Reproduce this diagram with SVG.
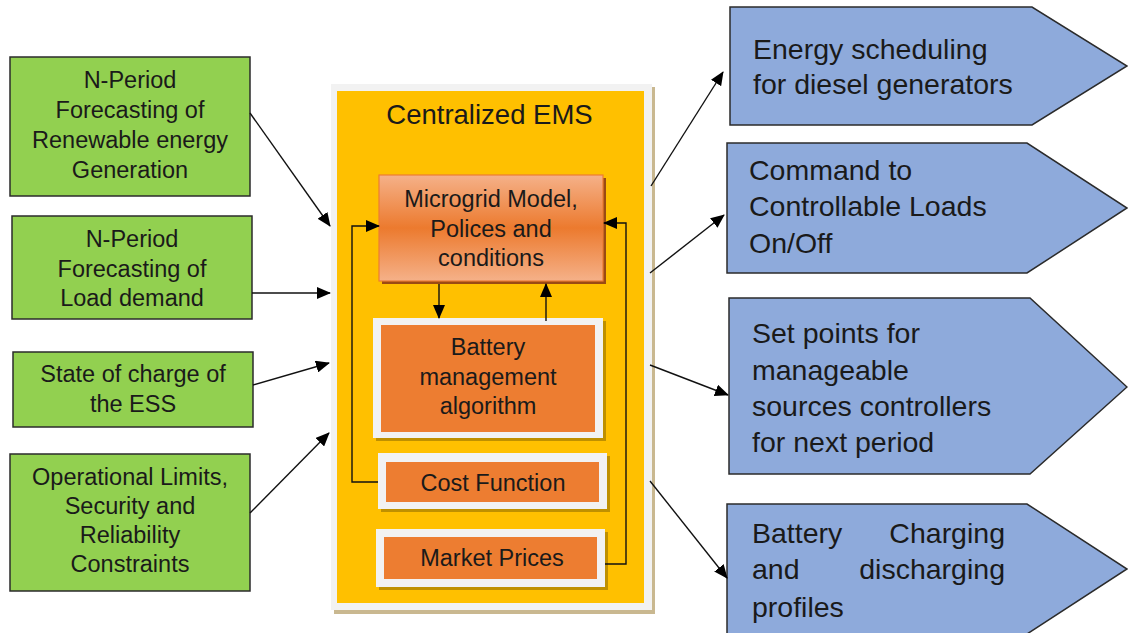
<svg xmlns="http://www.w3.org/2000/svg" width="1128" height="633" viewBox="0 0 1128 633">
<style>
text{font-family:"Liberation Sans",Arial,sans-serif;fill:#1a1a1a}
.g{font-size:23.5px;text-anchor:middle}
.o{font-size:23.5px;text-anchor:middle}
.b{font-size:28.5px}
.green{fill:#92d050;stroke:#2b2b2b;stroke-width:1.5}
.blue{fill:#8eaadb;stroke:#2b2b2b;stroke-width:1.5}
.frame{fill:#f2f2f2}
.org{fill:#ed7d31}
.sh{fill:#bf9000}
.ln{fill:none;stroke:#111;stroke-width:1.4}
</style>
<defs>
<marker id="ah" markerUnits="userSpaceOnUse" markerWidth="14" markerHeight="12" refX="13" refY="6" orient="auto" viewBox="0 0 14 12">
<path d="M0,0 L14,6 L0,12 z" fill="#000"/>
</marker>
<linearGradient id="mg" x1="0" y1="0" x2="0" y2="1">
<stop offset="0" stop-color="#f5b189"/>
<stop offset="0.5" stop-color="#ec7a2e"/>
<stop offset="1" stop-color="#f5b189"/>
</linearGradient>
</defs>
<rect width="1128" height="633" fill="#fff"/>

<g id="ems">
<rect x="334" y="87" width="321" height="527" fill="#c9b890"/>
<rect x="331" y="84" width="321" height="526" class="frame"/>
<rect x="337" y="91" width="307" height="512" fill="#ffc000"/>
<text x="489.5" y="124" style="font-size:27.5px;text-anchor:middle">Centralized EMS</text>
</g>

<g id="microgrid">
<rect x="382" y="178" width="224" height="106" fill="#9a4a14"/>
<rect x="379" y="175" width="224" height="106" fill="url(#mg)" stroke="#ed7d31" stroke-width="1.2"/>
<text class="o" x="491" y="207">Microgrid Model,</text>
<text class="o" x="491" y="237">Polices and</text>
<text class="o" x="491" y="266">conditions</text>
</g>

<g id="battery">
<rect x="376" y="321" width="230" height="120" class="sh"/>
<rect x="373" y="318" width="230" height="120" class="frame"/>
<rect x="381" y="325" width="214" height="107" class="org"/>
<text class="o" x="488" y="355">Battery</text>
<text class="o" x="488" y="385">management</text>
<text class="o" x="488" y="414">algorithm</text>
</g>

<g id="cost">
<rect x="381" y="456" width="229" height="56" class="sh"/>
<rect x="378" y="453" width="229" height="56" class="frame"/>
<rect x="386" y="462" width="213" height="40" class="org"/>
<text class="o" x="493" y="491">Cost Function</text>
</g>

<g id="market">
<rect x="379" y="532" width="229" height="58" class="sh"/>
<rect x="376" y="529" width="229" height="58" class="frame"/>
<rect x="384" y="537" width="213" height="42" class="org"/>
<text class="o" x="492" y="566">Market Prices</text>
</g>

<g id="in1">
<rect x="10" y="57" width="240" height="139" class="green"/>
<text class="g" x="130" y="88">N-Period</text>
<text class="g" x="130" y="118">Forecasting of</text>
<text class="g" x="130" y="148">Renewable energy</text>
<text class="g" x="130" y="178">Generation</text>
</g>
<g id="in2">
<rect x="12" y="216" width="240" height="103" class="green"/>
<text class="g" x="132" y="247">N-Period</text>
<text class="g" x="132" y="277">Forecasting of</text>
<text class="g" x="132" y="306">Load demand</text>
</g>
<g id="in3">
<rect x="13" y="352" width="240" height="75" class="green"/>
<text class="g" x="133" y="382">State of charge of</text>
<text class="g" x="133" y="412">the ESS</text>
</g>
<g id="in4">
<rect x="10" y="454" width="240" height="137" class="green"/>
<text class="g" x="130" y="485">Operational Limits,</text>
<text class="g" x="130" y="514">Security and</text>
<text class="g" x="130" y="543">Reliability</text>
<text class="g" x="130" y="572">Constraints</text>
</g>

<g id="out1">
<polygon points="730,7 1032,7 1127,66 1032,125 730,125" class="blue"/>
<text class="b" x="753" y="59">Energy scheduling</text>
<text class="b" x="753" y="94">for diesel generators</text>
</g>
<g id="out2">
<polygon points="727,143 1027,143 1127,208 1027,273 727,273" class="blue"/>
<text class="b" x="749" y="180">Command to</text>
<text class="b" x="749" y="216">Controllable Loads</text>
<text class="b" x="749" y="253">On/Off</text>
</g>
<g id="out3">
<polygon points="729,298 1030,298 1127,387 1030,474 729,474" class="blue"/>
<text class="b" x="752" y="343">Set points for</text>
<text class="b" x="752" y="380">manageable</text>
<text class="b" x="752" y="416">sources controllers</text>
<text class="b" x="752" y="452">for next period</text>
</g>
<g id="out4">
<polygon points="727,504 1027,504 1127,569 1027,634 727,634" class="blue"/>
<text class="b" x="752" y="543">Battery</text>
<text class="b" x="1005" y="543" style="text-anchor:end">Charging</text>
<text class="b" x="752" y="579">and</text>
<text class="b" x="1005" y="579" style="text-anchor:end">discharging</text>
<text class="b" x="752" y="617">profiles</text>
</g>

<g id="connectors" class="ln" marker-end="url(#ah)">
<line x1="250" y1="113" x2="330" y2="226" class="ln" marker-end="url(#ah)"/>
<line x1="252" y1="293" x2="330" y2="293" class="ln" marker-end="url(#ah)"/>
<line x1="253" y1="385" x2="329" y2="363" class="ln" marker-end="url(#ah)"/>
<line x1="250" y1="513" x2="329" y2="433" class="ln" marker-end="url(#ah)"/>
<line x1="651" y1="186" x2="723" y2="72" class="ln" marker-end="url(#ah)"/>
<line x1="650" y1="273" x2="724" y2="215" class="ln" marker-end="url(#ah)"/>
<line x1="650" y1="365" x2="728" y2="395" class="ln" marker-end="url(#ah)"/>
<line x1="650" y1="481" x2="727" y2="578" class="ln" marker-end="url(#ah)"/>
<line x1="439" y1="284" x2="439" y2="318" class="ln" marker-end="url(#ah)"/>
<line x1="546" y1="321" x2="546" y2="284" class="ln" marker-end="url(#ah)"/>
<polyline points="378,482 352,482 352,226 379,226" class="ln" marker-end="url(#ah)"/>
<polyline points="605,564 626,564 626,223 604,223" class="ln" marker-end="url(#ah)"/>
</g>
</svg>
